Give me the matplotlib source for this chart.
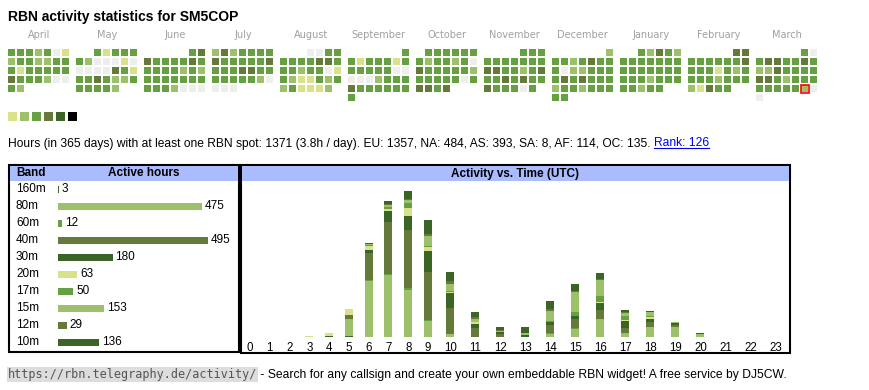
import calendar
import numpy as np
import matplotlib
matplotlib.use('Agg')
import matplotlib.pyplot as plt
from matplotlib.patches import Rectangle

plt.rcParams['font.family'] = ['Liberation Sans', 'DejaVu Sans']

# ---- data -------------------------------------------------------------
callsign = 'SM5COP'
months = ['April', 'May', 'June', 'July', 'August', 'September', 'October',
          'November', 'December', 'January', 'February', 'March']
month_years = [2024] * 9 + [2025] * 3
month_nums = [4, 5, 6, 7, 8, 9, 10, 11, 12, 1, 2, 3]

# activity level per day (0 = none ... 6 = max), one string per month
day_levels = [
    "3332301" "2332233" "3133333" "4333200" "32",            # April
    "31333" "3200010" "0000431" "3343223" "33332",           # May
    "34" "4333343" "3333232" "3333333" "3332000",            # June
    "2423333" "4333334" "3334433" "3333320" "000",           # July
    "0033" "3333443" "3323301" "3211323" "231112",           # August
    "3" "3133313" "3333300" "0002333" "4333333" "3",         # September
    "333333" "3233230" "4333332" "3333303" "4434",           # October
    "333" "3333333" "4433234" "3343433" "433303",            # November
    "2" "3323433" "3022333" "3434333" "2332333" "33",        # December
    "32432" "3333333" "3333333" "3332333" "33233",           # January
    "44" "3333334" "3331323" "3332333" "21433",              # February
    "30" "3443343" "2243333" "4432333" "3333320" "0",        # March
]
today = (11, 29)  # March 29

level_colors = ['#eeeeee', '#d9e28a', '#9dc16b', '#66a042', '#65793a', '#3a6526', '#000000']

stats_text = ("Hours (in 365 days) with at least one RBN spot: 1371 (3.8h / day). "
              "EU: 1357, NA: 484, AS: 393, SA: 8, AF: 114, OC: 135. ")
rank_text = "Rank: 126"

bands = ['160m', '80m', '60m', '40m', '30m', '20m', '17m', '15m', '12m', '10m']
band_hours = [3, 475, 12, 495, 180, 63, 50, 153, 29, 136]
band_colors = ['#3a6526', '#9dc16b', '#66a042', '#65793a', '#3a6526',
               '#d9e28a', '#66a042', '#9dc16b', '#65793a', '#3a6526']

hours = list(range(24))
hour_band = {
    '160m': [0, 0, 0, 0, 2, 1, 0, 0, 0, 0, 0, 0, 0, 0, 0, 0, 0, 0, 0, 0, 0, 0, 0, 0],
    '80m':  [0, 0, 0, 0, 0, 33, 104, 115, 87, 29, 5, 0, 0, 0, 5, 15, 33, 7, 18, 18, 6, 0, 0, 0],
    '60m':  [0, 0, 0, 0, 0, 0, 1, 1, 3, 2, 1, 0, 0, 0, 2, 1, 1, 0, 0, 0, 0, 0, 0, 0],
    '40m':  [0, 0, 0, 0, 0, 7, 51, 97, 109, 90, 48, 16, 5, 0, 16, 18, 16, 9, 9, 4, 0, 0, 0, 0],
    '30m':  [0, 0, 0, 0, 0, 0, 5, 20, 26, 39, 27, 9, 5, 4, 4, 4, 13, 13, 7, 4, 0, 0, 0, 0],
    '20m':  [0, 0, 0, 2, 6, 10, 7, 4, 14, 6, 3, 3, 0, 0, 0, 0, 2, 3, 3, 0, 0, 0, 0, 0],
    '17m':  [0, 0, 0, 0, 0, 0, 2, 3, 9, 3, 2, 0, 0, 0, 3, 9, 11, 6, 2, 0, 0, 0, 0, 0],
    '15m':  [0, 0, 0, 0, 0, 0, 2, 4, 5, 18, 13, 5, 2, 4, 18, 37, 29, 7, 7, 2, 0, 0, 0, 0],
    '12m':  [0, 0, 0, 0, 0, 0, 0, 2, 3, 4, 5, 4, 1, 0, 3, 2, 3, 1, 1, 0, 0, 0, 0, 0],
    '10m':  [0, 0, 0, 0, 0, 0, 2, 5, 15, 26, 16, 9, 5, 11, 15, 13, 11, 4, 2, 0, 2, 0, 0, 0],
}

footer_url = "https://rbn.telegraphy.de/activity/"
footer_text = " - Search for any callsign and create your own embeddable RBN widget! A free service by DJ5CW."

# ---- layout -----------------------------------------------------------
W, H = 870, 390
fig = plt.figure(figsize=(W / 100, H / 100), dpi=100)
page = fig.add_axes([0, 0, 1, 1])
page.set_xlim(0, W)
page.set_ylim(H, 0)
page.axis('off')


def px_axes(x0, y0, x1, y1):
    a = fig.add_axes([x0 / W, 1 - y1 / H, (x1 - x0) / W, (y1 - y0) / H])
    a.patch.set_alpha(0)
    for s in a.spines.values():
        s.set_visible(False)
    return a


page.text(8, 20.5, f"RBN activity statistics for {callsign}", fontsize=10,
          fontweight='bold', va='baseline')

# calendar
CELL, GAP, BLOCK, X0, Y0 = 7, 2, 68, 8.3, 49.3
for m, (name, yr, mn) in enumerate(zip(months, month_years, month_nums)):
    first_wd = calendar.monthrange(yr, mn)[0]
    bx = X0 + m * BLOCK
    page.text(bx + (7 * (CELL + GAP) - GAP) / 2, 38.5, name, fontsize=7,
              family='DejaVu Sans', color='#a0a0a0', ha='center', va='baseline')
    for d, lv in enumerate(day_levels[m]):
        idx = first_wd + d
        x = bx + (idx % 7) * (CELL + GAP)
        y = Y0 + (idx // 7) * (CELL + GAP)
        page.add_patch(Rectangle((x, y), CELL, CELL, facecolor=level_colors[int(lv)],
                                 edgecolor='none'))
        if (m, d + 1) == today:
            page.add_patch(Rectangle((x - 0.5, y - 0.5), CELL + 1, CELL + 1,
                                     facecolor='none', edgecolor='red', lw=1.2))

# level legend
for i, c in enumerate(level_colors[1:]):
    page.add_patch(Rectangle((8 + i * 12, 111.7), 9, 9, facecolor=c, edgecolor='none'))

# stats line
t1 = page.text(8, 146.5, stats_text, fontsize=8.68, va='baseline')
fig.canvas.draw()
bb = t1.get_window_extent(fig.canvas.get_renderer())
rx = bb.x1
t2 = page.text(rx, 146.5, rank_text, fontsize=8.68, va='baseline', color='#0000ee')
bb2 = t2.get_window_extent(fig.canvas.get_renderer())
page.plot([rx, bb2.x1], [148, 148], color='#0000ee', lw=0.8)

# boxes
HEAD = '#aabbff'
page.add_patch(Rectangle((9, 165), 230, 187, facecolor='white', edgecolor='black', lw=1.5, zorder=0))
page.add_patch(Rectangle((10, 166), 228, 15, facecolor=HEAD, edgecolor='none', zorder=1))
page.add_patch(Rectangle((241, 165), 549, 188, facecolor='white', edgecolor='black', lw=1.5, zorder=0))
page.add_patch(Rectangle((242, 166), 547, 15, facecolor=HEAD, edgecolor='none', zorder=1))
page.text(16, 173.5, "Band", fontsize=8.5, fontweight='bold', va='center')
page.text(144, 173.5, "Active hours", fontsize=8.5, fontweight='bold', va='center', ha='center')
page.text(515, 173.5, "Activity vs. Time (UTC)", fontsize=8.5, fontweight='bold',
          va='center', ha='center')

# band table
bx0, bx1, by0, by1 = 58, 236, 181, 350
tab = px_axes(bx0, by0, bx1, by1)
pxh = 0.303
tab.set_xlim(0, (bx1 - bx0) / pxh)
row_px = 17
top_off = 189.3 - by0
tab.set_ylim((by1 - by0 - top_off) / row_px, -top_off / row_px)
tab.set_xticks([])
tab.set_yticks([])
ypos = np.arange(len(bands))
tab.barh(ypos, band_hours, height=7 / row_px, color=band_colors)
lab_x = (16 - bx0) / (bx1 - bx0)
for i, (b, v) in enumerate(zip(bands, band_hours)):
    tab.text(lab_x, i, b, transform=tab.get_yaxis_transform(), fontsize=8.5, va='center')
    tab.annotate(str(v), (v, i), xytext=(3, 0), textcoords='offset pixels',
                 fontsize=8.5, va='center')

# activity vs time
widths = np.array([14.6 + 5.2 * len(str(h)) for h in hours])
centers = np.cumsum(widths) - widths / 2
ax0, ax1, ay0, ay1 = 240, 240 + widths.sum(), 183, 337
act = px_axes(ax0, ay0, ax1, ay1)
act.set_xlim(0, widths.sum())
act.set_ylim(0, (ay1 - ay0) / 0.54)
bottom = np.zeros(24)
for b, c in zip(bands, band_colors):
    vals = np.array(hour_band[b])
    act.bar(centers, vals, width=8, bottom=bottom, color=c, linewidth=0)
    bottom += vals
act.set_yticks([])
act.set_xticks(centers, [str(h) for h in hours])
act.tick_params(axis='x', length=0, pad=3.5, labelsize=8.3)

# footer
ft = page.text(8, 378, footer_url, fontsize=8.5, family='DejaVu Sans Mono',
               color='#555555', va='baseline')
fig.canvas.draw()
fb = ft.get_window_extent(fig.canvas.get_renderer())
page.add_patch(Rectangle((7, 367), fb.x1 - 7 + 1, 15, facecolor='#dddddd', edgecolor='none', zorder=0))
page.text(fb.x1, 378, footer_text, fontsize=8.75, va='baseline')

fig.savefig('out.png', dpi=100)
